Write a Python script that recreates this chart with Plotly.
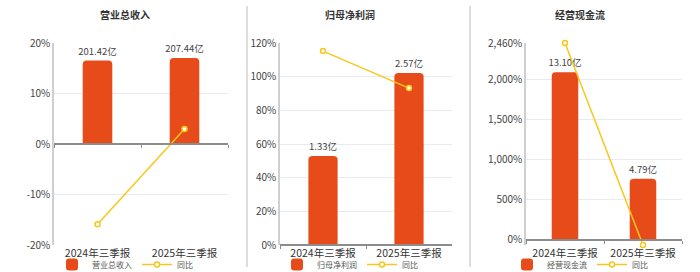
import plotly.graph_objects as go

# ---- data ----
categories = ["2024年三季报", "2025年三季报"]

revenue = [201.42, 207.44]          # 营业总收入 (亿)
revenue_yoy = [-15.9, 2.99]         # 同比 (%)

profit = [1.33, 2.57]               # 归母净利润 (亿)
profit_yoy = [115.2, 93.2]          # 同比 (%)

cashflow = [13.10, 4.79]            # 经营现金流 (亿)
cashflow_yoy = [2460.0, -63.4]      # 同比 (%)

titles = ["营业总收入", "归母净利润", "经营现金流"]

# ---- styling ----
W, H = 700, 272
FONT = "Noto Sans CJK SC"
BAR_COLOR = "#E84B1A"
LINE_COLOR = "#F6C81C"
GRID_COLOR = "#E6EAF3"
AXIS_COLOR = "#8C8C8C"
YLINE_COLOR = "#CFCFCF"
TEXT_COLOR = "#444444"

def px_x(p):
    return p / W

def px_y(p):
    return 1 - p / H

y_dom = [px_y(245), px_y(43)]
x_doms = [[px_x(54), px_x(228)], [px_x(280), px_x(452)], [px_x(526), px_x(682)]]
centers = [px_x(125), px_x(350), px_x(580)]
cat_range = [-0.5, len(categories) - 0.5]

panels = [
    dict(vals=revenue, yoy=revenue_yoy, pct_range=[-20, 20],
         tickvals=[-20, -10, 0, 10, 20]),
    dict(vals=profit, yoy=profit_yoy, pct_range=[0, 120],
         tickvals=[0, 20, 40, 60, 80, 100, 120]),
    dict(vals=cashflow, yoy=cashflow_yoy,
         pct_range=[min(cashflow_yoy), max(cashflow_yoy)],
         tickvals=[0, 500, 1000, 1500, 2000, 2460]),
]

fig = go.Figure()
layout = dict(
    width=W, height=H,
    margin=dict(l=0, r=0, t=0, b=0, autoexpand=False),
    paper_bgcolor="white", plot_bgcolor="white",
    template="none",
    font=dict(family=FONT, color=TEXT_COLOR, size=10),
    annotations=[], shapes=[],
)

for i, p in enumerate(panels):
    a = 2 * i + 1          # category x / bar y
    b = 2 * i + 2          # zero-line x / percent y
    xa, ya = f"x{a}", f"y{a}"
    xb, yb = f"x{b}", f"y{b}"
    leg = "legend" if i == 0 else f"legend{i + 1}"

    lo, hi = p["pct_range"]
    bar_hi = max(p["vals"]) * 1.175
    bar_lo = bar_hi * lo / hi
    zero_pos = y_dom[0] + (0 - lo) / (hi - lo) * (y_dom[1] - y_dom[0])

    fig.add_trace(go.Bar(
        x=categories, y=p["vals"], name=titles[i],
        xaxis=xa, yaxis=ya, legend=leg,
        marker=dict(color=BAR_COLOR, cornerradius=4, line=dict(width=0)),
        width=0.34,
        text=[f"{v:.2f}亿" for v in p["vals"]],
        textposition="outside", cliponaxis=False, constraintext="none",
        textfont=dict(size=9.5, color=TEXT_COLOR, family=FONT),
        hoverinfo="skip",
    ))
    fig.add_trace(go.Scatter(
        x=categories, y=p["yoy"], name="同比",
        xaxis=xb, yaxis=yb, legend=leg,
        mode="lines+markers", cliponaxis=False,
        line=dict(color=LINE_COLOR, width=1.5),
        marker=dict(size=5, color="white", line=dict(color=LINE_COLOR, width=1.5)),
        hoverinfo="skip",
    ))

    ticktext = [f"{v:,}%" for v in p["tickvals"]]

    layout[f"xaxis{a}"] = dict(
        domain=x_doms[i], anchor=ya, type="category", range=cat_range,
        categoryorder="array", categoryarray=categories,
        showline=False, showgrid=False, zeroline=False, ticks="",
        tickfont=dict(size=10.5, color="#333333"),
    )
    layout[f"yaxis{a}"] = dict(
        domain=y_dom, anchor=xa, range=[bar_lo, bar_hi], visible=False,
    )
    layout[f"xaxis{b}"] = dict(
        overlaying=xa, anchor="free", position=zero_pos, type="category",
        range=cat_range, categoryorder="array", categoryarray=categories,
        showline=True, linecolor=AXIS_COLOR, linewidth=1.5,
        ticks="outside", tickson="boundaries", ticklen=3, tickwidth=1,
        tickcolor=AXIS_COLOR, showticklabels=False, showgrid=False,
        zeroline=False,
    )
    layout[f"yaxis{b}"] = dict(
        overlaying=ya, anchor=xb, side="left", range=[lo, hi],
        tickmode="array", tickvals=p["tickvals"], ticktext=ticktext,
        showgrid=True, gridcolor=GRID_COLOR, gridwidth=1,
        zeroline=False, showline=True, linecolor=YLINE_COLOR, linewidth=1.5,
        ticks="", tickfont=dict(size=10, color=TEXT_COLOR),
    )
    layout[leg] = dict(
        orientation="h", x=centers[i], xanchor="center",
        y=-7 / H, yanchor="bottom",
        font=dict(size=8, color="#555555", family=FONT),
        bgcolor="rgba(0,0,0,0)", itemwidth=30, tracegroupgap=0,
        traceorder="normal",
    )
    layout["annotations"].append(dict(
        text=f"<b>{titles[i]}</b>", x=centers[i], y=px_y(14),
        xref="paper", yref="paper", xanchor="center", yanchor="middle",
        showarrow=False, font=dict(size=10, color="#333333", family=FONT),
    ))

# panel dividers
for xp in (247, 470):
    layout["shapes"].append(dict(
        type="line", xref="paper", yref="paper",
        x0=px_x(xp), x1=px_x(xp), y0=px_y(6), y1=px_y(267),
        line=dict(color="#DDDDDD", width=2),
    ))

fig.update_layout(**layout)
fig.write_html("out.html")
